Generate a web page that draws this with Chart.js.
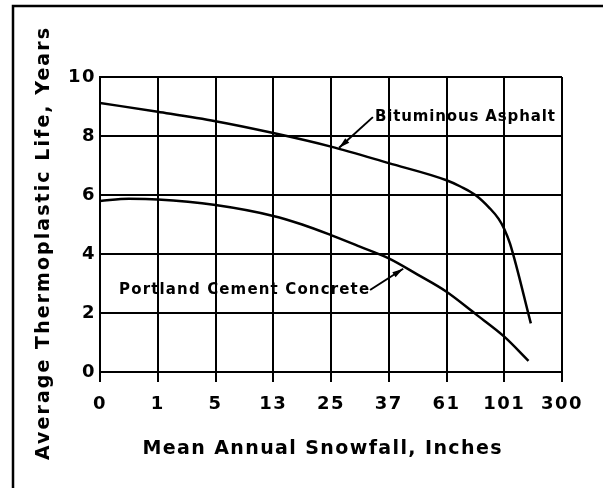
<!DOCTYPE html>
<html>
<head>
<meta charset="utf-8">
<script src="https://cdn.jsdelivr.net/npm/chart.js@4"></script>
<style>
  html, body { margin: 0; padding: 0; background: #fff; }
  #wrap { width: 603px; height: 488px; position: relative; }
</style>
</head>
<body>
<div id="wrap"><canvas id="myChart" width="603" height="488"></canvas></div>
<script>
// snowfall categories, equally spaced on the axis
const xLabels = ["0", "1", "5", "13", "25", "37", "61", "101", "300"];

// position along the category axis (index units) and life in years
const asphaltX = [0, 1, 2, 3, 4, 5, 6, 6.25, 6.5, 6.75, 6.9, 7.0, 7.1, 7.46];
const asphaltY = [9.12, 8.82, 8.5, 8.1, 7.64, 7.08, 6.5, 6.28, 6.0, 5.55, 5.2, 4.85, 4.35, 1.65];

const concreteX = [0, 0.5, 1, 2, 3, 3.5, 4, 4.5, 5, 5.5, 6, 6.5, 7, 7.42];
const concreteY = [5.8, 5.87, 5.85, 5.66, 5.29, 5.0, 4.64, 4.25, 3.85, 3.3, 2.72, 1.97, 1.2, 0.38];

// callout labels: text, text start (x, y), arrow tip (x, y) in data units, text width
const callouts = [
  ["Bituminous Asphalt", 4.76, 8.64, 4.14, 7.6, 180],
  ["Portland Cement Concrete", 0.33, 2.78, 5.25, 3.5, 250],
];

const xTitle = "Mean Annual Snowfall, Inches";
const yTitle = "Average Thermoplastic Life, Years";

const fontFamily = "'DejaVu Sans', 'Liberation Sans', Arial, sans-serif";

function toPoints(xs, ys) {
  return xs.map(function (x, i) { return { x: x, y: ys[i] }; });
}

// draw text stretched to a given width with letter spacing
function spacedText(ctx, text, x, y, width, align) {
  ctx.letterSpacing = "0px";
  var w = ctx.measureText(text).width;
  var sp = (width - w) / (text.length - 1);
  ctx.letterSpacing = sp + "px";
  ctx.textAlign = "left";
  var start = align === "center" ? x - width / 2 : x;
  ctx.fillText(text, start, y);
  ctx.letterSpacing = "0px";
}

const framePlugin = {
  id: "frame",
  beforeDraw: function (chart) {
    var ctx = chart.ctx;
    ctx.save();
    ctx.fillStyle = "#fff";
    ctx.fillRect(0, 0, chart.width, chart.height);
    ctx.strokeStyle = "#000";
    ctx.lineWidth = 2.5;
    ctx.beginPath();
    ctx.moveTo(13, chart.height);
    ctx.lineTo(13, 6);
    ctx.lineTo(chart.width, 6);
    ctx.stroke();
    ctx.restore();
    ctx.letterSpacing = "1.5px";
  },
  afterDraw: function (chart) {
    var ctx = chart.ctx;
    var xs = chart.scales.x, ys = chart.scales.y;
    ctx.save();
    ctx.letterSpacing = "0px";
    ctx.fillStyle = "#000";
    ctx.strokeStyle = "#000";
    ctx.textBaseline = "middle";

    // axis titles
    ctx.font = "bold 19px " + fontFamily;
    spacedText(ctx, xTitle, 322, 449, 359, "center");
    ctx.save();
    ctx.translate(44, 244);
    ctx.rotate(-Math.PI / 2);
    spacedText(ctx, yTitle, 0, 0, 432, "center");
    ctx.restore();

    // callouts with leader arrows
    ctx.font = "bold 15px " + fontFamily;
    callouts.forEach(function (c) {
      var tx = xs.getPixelForValue(c[1]), ty = ys.getPixelForValue(c[2]);
      var ax = xs.getPixelForValue(c[3]), ay = ys.getPixelForValue(c[4]);
      spacedText(ctx, c[0], tx, ty, c[5], "left");
      var sx = c[3] > c[1] + 1 ? tx + c[5] + 1 : tx - 2;
      ctx.lineWidth = 2;
      ctx.beginPath();
      ctx.moveTo(sx, ty);
      ctx.lineTo(ax, ay);
      ctx.stroke();
      // arrowhead
      var ang = Math.atan2(ay - ty, ax - sx);
      var len = 11, half = 3;
      ctx.beginPath();
      ctx.moveTo(ax, ay);
      ctx.lineTo(ax - len * Math.cos(ang) + half * Math.sin(ang), ay - len * Math.sin(ang) - half * Math.cos(ang));
      ctx.lineTo(ax - len * Math.cos(ang) - half * Math.sin(ang), ay - len * Math.sin(ang) + half * Math.cos(ang));
      ctx.closePath();
      ctx.fill();
    });
    ctx.restore();
  },
};

const data = {
  datasets: [
    {
      label: "Bituminous Asphalt",
      data: toPoints(asphaltX, asphaltY),
      borderColor: "#000",
      borderWidth: 2.5,
      pointRadius: 0,
      cubicInterpolationMode: "monotone",
    },
    {
      label: "Portland Cement Concrete",
      data: toPoints(concreteX, concreteY),
      borderColor: "#000",
      borderWidth: 2.5,
      pointRadius: 0,
      cubicInterpolationMode: "monotone",
    },
  ],
};

const config = {
  type: "line",
  data: data,
  plugins: [framePlugin],
  options: {
    responsive: false,
    animation: false,
    layout: { padding: { left: 0, top: 77, right: 41, bottom: 0 } },
    plugins: { legend: { display: false }, tooltip: { enabled: false } },
    scales: {
      x: {
        type: "linear",
        min: 0,
        max: 8,
        afterFit: function (scale) { scale.height = 116; },
        border: { color: "#000", width: 2 },
        grid: { color: "#000", lineWidth: 2, tickLength: 10, tickColor: "#000" },
        ticks: {
          stepSize: 1,
          padding: 12,
          color: "#000",
          maxRotation: 0,
          font: { family: fontFamily, size: 18, weight: "bold" },
          callback: function (v) { return xLabels[v]; },
        },
      },
      y: {
        min: 0,
        max: 10,
        afterFit: function (scale) { scale.width = 100; },
        border: { color: "#000", width: 2 },
        grid: { color: "#000", lineWidth: 2, drawTicks: false },
        ticks: {
          stepSize: 2,
          padding: 4,
          color: "#000",
          font: { family: fontFamily, size: 18, weight: "bold" },
        },
      },
    },
  },
};

var myChart = new Chart(document.getElementById("myChart"), config);
</script>
</body>
</html>
